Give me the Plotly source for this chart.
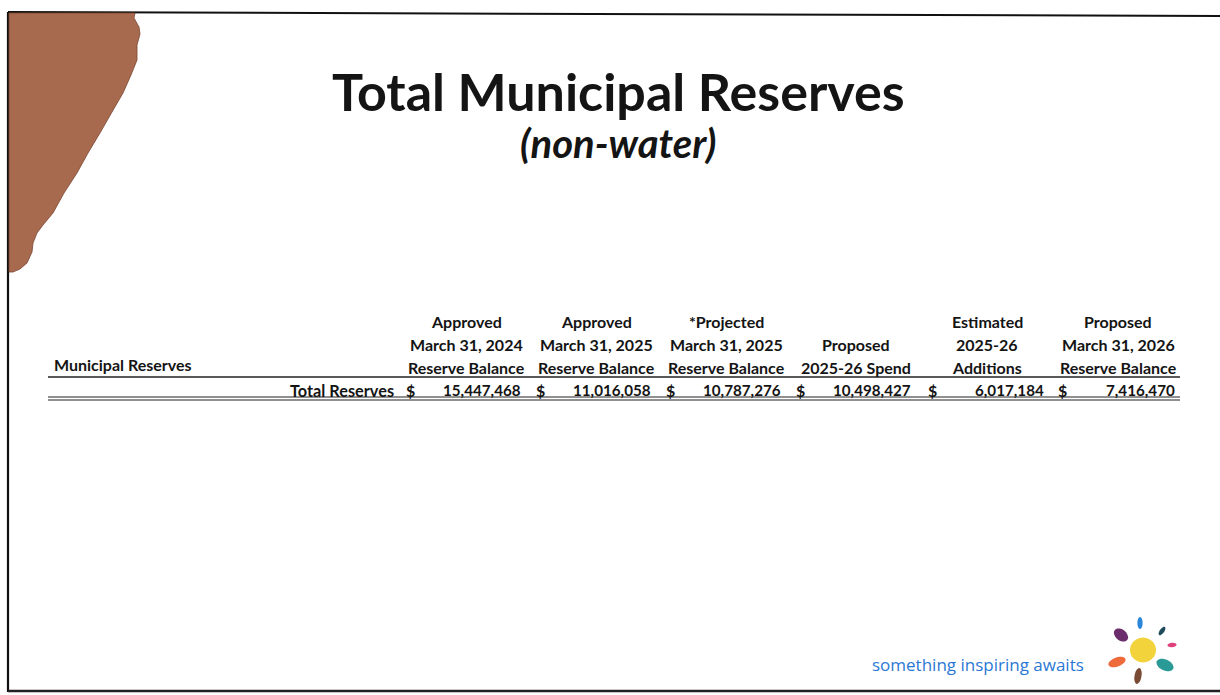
import math
import plotly.graph_objects as go

# ---------------- data ----------------
title_text = "Total Municipal Reserves"
subtitle_text = "(non-water)"
section_label = "Municipal Reserves"
row_label = "Total Reserves"
column_headers = [
    ["Approved", "March 31, 2024", "Reserve Balance"],
    ["Approved", "March 31, 2025", "Reserve Balance"],
    ["*Projected", "March 31, 2025", "Reserve Balance"],
    ["Proposed", "2025-26 Spend"],
    ["Estimated", "2025-26", "Additions"],
    ["Proposed", "March 31, 2026", "Reserve Balance"],
]
total_reserves = [15447468, 11016058, 10787276, 10498427, 6017184, 7416470]
slogan = "something inspiring awaits"

# ---------------- layout constants ----------------
W, H = 1220, 695
col_centers = [466, 596, 726, 856, 987, 1118]
dollar_x = [410, 540, 670, 800, 932, 1062]
value_right = [523, 653, 783, 913, 1046, 1177]
header_line_y = [321, 344, 367]
row_y = 390
FONT = "Lato"
TXT = "#141414"

fig = go.Figure()
fig.add_trace(go.Scatter(x=[0, W], y=[0, H], mode="markers",
                         marker=dict(opacity=0), hoverinfo="skip", showlegend=False))

ann = []
shapes = []

def text(x, y, s, size, xanchor="center", bold=True, italic=False, color=TXT, family=FONT):
    t = s
    if bold:
        t = "<b>" + t + "</b>"
    if italic:
        t = "<i>" + t + "</i>"
    ann.append(dict(x=x, y=y, xref="x", yref="y", text=t, showarrow=False,
                    xanchor=xanchor, yanchor="middle",
                    font=dict(family=family, size=size, color=color)))

# title
text(618, 91, title_text, 52)
text(618, 143, subtitle_text, 40, italic=True)

# table header
text(52, 364, section_label, 16, xanchor="left")
for cx, lines in zip(col_centers, column_headers):
    ys = header_line_y[-len(lines):]
    for yy, ln in zip(ys, lines):
        text(cx, yy, ln, 16)

# row
text(396, row_y, row_label, 16.3, xanchor="right")
for dx, vx, v in zip(dollar_x, value_right, total_reserves):
    text(dx, row_y, "$", 16)
    text(vx, row_y, f"{v:,}", 15.2, xanchor="right")

# table lines
shapes.append(dict(type="line", xref="x", yref="y", x0=48, x1=1180, y0=377, y1=377,
                   line=dict(color="#222", width=1.4)))
for yy in (397, 400):
    shapes.append(dict(type="line", xref="x", yref="y", x0=48, x1=1180, y0=yy, y1=yy,
                       line=dict(color="#222", width=1.2)))

# slide border
shapes.append(dict(type="line", xref="x", yref="y", x0=8, x1=W, y0=12, y1=16,
                   line=dict(color="#111", width=2)))
shapes.append(dict(type="line", xref="x", yref="y", x0=8, x1=8, y0=12, y1=692,
                   line=dict(color="#111", width=2.2)))
shapes.append(dict(type="line", xref="x", yref="y", x0=8, x1=W, y0=691, y1=691,
                   line=dict(color="#222", width=2.6)))

# brown decorative corner
pts = [(9, 13), (135, 13), (134, 18), (139, 27), (140, 34), (137, 45), (137, 60),
       (131, 75), (123, 93), (112, 112), (100, 133), (88, 153), (77, 173),
       (64, 193), (53, 213), (43, 225), (37, 233), (33, 243), (32, 252),
       (27, 263), (20, 269), (13, 272), (9, 272)]
path = "M " + " L ".join(f"{x},{y}" for x, y in pts) + " Z"
shapes.append(dict(type="path", xref="x", yref="y", path=path,
                   fillcolor="#a86a4f", line=dict(color="#7a4530", width=0.8)))

# logo
text(978, 664, slogan, 17, bold=False, color="#2a78d4", family="Open Sans")

def ellipse(cx, cy, rx, ry, ang, color):
    n = 24
    a = math.radians(ang)
    p = []
    for i in range(n):
        t = 2 * math.pi * i / n
        ex, ey = rx * math.cos(t), ry * math.sin(t)
        p.append((cx + ex * math.cos(a) - ey * math.sin(a),
                  cy + ex * math.sin(a) + ey * math.cos(a)))
    d = "M " + " L ".join(f"{x:.1f},{y:.1f}" for x, y in p) + " Z"
    shapes.append(dict(type="path", xref="x", yref="y", path=d,
                       fillcolor=color, line=dict(width=0)))

ellipse(1143, 650, 13, 12.5, 0, "#f2d33c")
ellipse(1121, 635, 8, 5.5, 40, "#6b2d6b")
ellipse(1140, 623, 2.6, 6, 0, "#2a86d8")
ellipse(1162, 631, 2.2, 5, 35, "#1f4a5a")
ellipse(1172, 645, 4.5, 2.2, -5, "#e0407a")
ellipse(1165, 665, 9, 5.5, 25, "#2a9a96")
ellipse(1138, 676, 3.5, 8, 10, "#7a4a34")
ellipse(1117, 662, 9, 4.5, -20, "#ee6a3a")

fig.update_layout(
    width=W, height=H, margin=dict(l=0, r=0, t=0, b=0),
    paper_bgcolor="white", plot_bgcolor="white",
    xaxis=dict(range=[0, W], visible=False, fixedrange=True),
    yaxis=dict(range=[H, 0], visible=False, fixedrange=True),
    annotations=ann, shapes=shapes, showlegend=False,
)
fig.write_html("out.html", config={"displayModeBar": False},
               post_script="document.body.style.margin='0';document.body.style.overflow='hidden';")
